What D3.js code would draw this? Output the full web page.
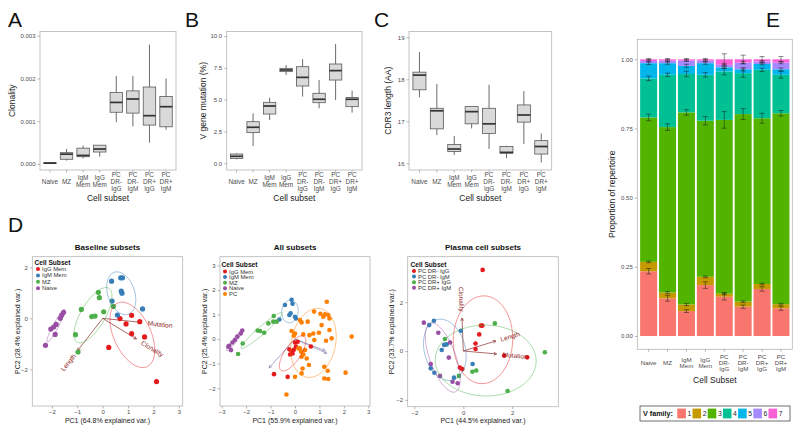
<!doctype html>
<html lang="en">
<head>
<meta charset="utf-8">
<title>Repertoire panels A-E</title>
<style>
body{margin:0;background:#fff;}
svg{display:block;}
</style>
</head>
<body>
<script src="https://cdn.jsdelivr.net/npm/d3@7"></script>
<script>
// ---- data ----
var subsets = ["Naive","MZ","IgM Mem","IgG Mem","PC DR- IgG","PC DR- IgM","PC DR+ IgG","PC DR+ IgM"];
var subsetLines = [["Naive"],["MZ"],["IgM","Mem"],["IgG","Mem"],["PC","DR-","IgG"],["PC","DR-","IgM"],["PC","DR+","IgG"],["PC","DR+","IgM"]];

// box stats per subset: [min, q1, median, q3, max]
var clonality = [
  [0.00001,0.00001,0.00002,0.00003,0.00003],
  [0.00008,0.00011,0.00023,0.000265,0.00035],
  [0.00013,0.00017,0.0002,0.00037,0.00043],
  [0.00017,0.00028,0.00035,0.00044,0.00044],
  [0.00098,0.00121,0.00144,0.00167,0.00206],
  [0.00088,0.00119,0.00152,0.00171,0.00206],
  [0.0005,0.00091,0.00113,0.0018,0.00279],
  [0.0008,0.00087,0.00134,0.00158,0.002]
];
var mutation = [
  [0.31,0.37,0.55,0.73,0.79],
  [1.36,2.41,2.83,3.27,3.93],
  [3.4,3.87,4.5,4.79,5.16],
  [6.94,7.2,7.33,7.46,7.72],
  [5.24,6.07,6.75,7.59,8.19],
  [4.32,4.76,5.03,5.5,6.54],
  [4.97,6.54,7.28,7.8,9.37],
  [3.98,4.45,5.03,5.16,5.71]
];
var cdr3 = [
  [17.57,17.75,18.1,18.17,18.65],
  [16.67,16.82,17.25,17.31,17.89],
  [16.2,16.28,16.34,16.45,16.65],
  [16.83,16.94,17.23,17.35,17.35],
  [16.34,16.71,16.94,17.31,17.87],
  [16.12,16.24,16.26,16.4,16.42],
  [16.46,16.98,17.15,17.39,17.72],
  [16.02,16.22,16.4,16.54,16.71]
];
var clonTicks = [0,0.001,0.002,0.003];
var mutTicks = [0,2.5,5,7.5,10];
var cdrTicks = [16,17,18,19];

// V family proportions (families 1..7, one value per subset)
var vFamilies = ["1","2","3","4","5","6","7"];
var vProp = [
  [0.234,0.136,0.09,0.184,0.142,0.106,0.17,0.1],
  [0.034,0.021,0.024,0.03,0.011,0.018,0.018,0.015],
  [0.522,0.598,0.694,0.564,0.628,0.678,0.599,0.69],
  [0.141,0.189,0.139,0.166,0.175,0.148,0.175,0.139],
  [0.055,0.042,0.029,0.042,0.015,0.014,0.021,0.02],
  [0.008,0.009,0.019,0.009,0.009,0.024,0.009,0.024],
  [0.006,0.005,0.005,0.005,0.02,0.012,0.008,0.012]
];
var vErr = [
  [0.01,0.01,0.005,0.012,0.012,0.006,0.008,0.007],
  [0.003,0.004,0.004,0.003,0.004,0.003,0.003,0.003],
  [0.012,0.012,0.01,0.015,0.03,0.02,0.018,0.01],
  [0.008,0.006,0.01,0.008,0.012,0.015,0.006,0.012],
  [0.005,0.004,0.006,0.004,0.004,0.006,0.003,0.005],
  [0.004,0.003,0.003,0.003,0.004,0.005,0.003,0.004],
  [0.003,0.003,0.003,0.003,0.02,0.015,0.01,0.01]
];
var propTicks = [0,0.25,0.5,0.75,1];

// PCA scores, baseline subsets
var baseIgG = [[0.68,-0.01],[1.14,0.12],[0.92,-0.22],[1.46,-0.13],[1.14,-0.6],[1.65,-0.73],[0.24,-1.14],[2.12,-2.48]];
var baseIgM = [[0.35,1.46],[0.71,1.59],[0.78,1.59],[0.73,1.07],[0.76,0.99],[0.37,0.68],[0.58,0.13],[1.57,0.37]];
var baseMZ = [[-0.17,1.02],[-0.13,0.81],[-0.84,0.35],[-0.43,0.07],[-0.3,0.09],[0.04,0.26],[0.42,0.47],[-1.07,-0.64],[-0.97,-1.32]];
var baseNaive = [[-1.54,0.24],[-1.61,0.13],[-1.67,0],[-1.83,-0.24],[-1.93,-0.34],[-2.04,-0.42],[-1.87,-0.63],[-2.25,-1.06]];
var baseLoad = [["Mutation",1.53,-0.16],["Clonality",1.33,-0.81],["Length",-0.99,-1.27]];

// PCA scores, all subsets
var allIgG = [[-0.86,-1.43],[-0.3,-1.54],[-0.23,-0.42],[-0.14,-0.52],[-0.2,-0.63],[-0.1,-0.59],[0,-0.14],[0.11,-0.11],[0.04,-0.31],[0.65,-0.3],[-0.05,-0.44]];
var allIgM = [[-0.41,1.39],[-0.14,1.6],[-0.1,1.44],[-0.18,1.05],[-0.23,0.98],[0,0.91],[0.04,0.84],[-0.64,0.8]];
var allMZ = [[-0.87,0.94],[-1.09,0.64],[-0.89,0.71],[-0.75,0.71],[-1.26,0.26],[-1.43,0.33],[-1.53,0.35],[-2.14,-0.18],[-2.33,-0.61]];
var allNaive = [[-2.16,0.35],[-2.22,0.23],[-2.36,0.1],[-2.46,-0.04],[-2.56,-0.14],[-2.69,-0.27],[-2.62,-0.45],[-2.73,-0.31]];
var allPC = [[1.3,1.52],[0.78,1.12],[1.04,1.03],[1.23,1.01],[1.36,0.98],[1.41,0.84],[1.16,0.91],[0.2,0.78],[0.27,0.68],[0.52,0.71],
  [1.09,0.57],[1.41,0.37],[0.98,0.26],[0.75,0.23],[0.59,0.16],[-0.14,0.33],[-0.05,0.14],[0.34,0.19],[0.79,-0.04],[1.27,-0.07],
  [1.5,0.03],[2.32,0.1],[0,0.23],[0.14,-0.38],[0.2,-0.38],[0.27,-0.72],[0.34,-0.63],[0.48,-0.79],[0.57,-1.06],[0.31,-1.2],
  [1.2,-1.13],[1.34,-1.29],[0.27,-1.4],[0,-1.54],[1.2,-1.61],[1.36,-1.63],[2.07,-1.37],[-0.35,-2.26],[0.25,-0.52],[0.41,-0.45]];
var allLoad = [["Mutation",1.23,-0.47],["Clonality",1.3,-0.58],["Length",-1.06,-1.17]];

// PCA scores, plasma cell subsets
var pcNegIgG = [[0.79,3.32],[0.78,1.04],[0.72,1.04],[0.65,0.68],[0.5,0.31],[0.5,0.08],[1.67,-0.19],[2.61,-0.26],[-0.14,-0.68],[-0.04,-0.74]];
var pcNegIgM = [[-1.2,1.24],[-1.39,1.06],[-0.1,0.83],[-0.78,0.25],[-0.68,0.27],[-0.88,0.04],[-1.33,-0.71],[-1.18,-0.89],[-0.38,-1.09],[0.38,-0.53]];
var pcPosIgG = [[1.29,1.13],[-0.75,0.49],[3.33,-0.05],[0.37,-0.85],[0.53,-0.8],[-0.18,-1.02],[1.81,-1.64]];
var pcPosIgM = [[-1.61,1.16],[-1.02,0.75],[-0.54,0.35],[-0.59,-0.27],[-1.33,-0.53],[-0.95,-1.02],[-0.44,-1.26],[-0.23,-1.32]];
var pcLoad = [["Clonality",-0.05,1.35],["Length",1.33,0.41],["Mutation",1.36,-0.12]];

// ---- drawing ----
var FONT = "Arial, 'Liberation Sans', sans-serif";
var svg = d3.select("body").append("svg")
    .attr("width", 800).attr("height", 432)
    .style("font-family", FONT);

function frame(r) {
  svg.append("rect")
     .attr("x", r.x0).attr("y", r.y0)
     .attr("width", r.x1 - r.x0).attr("height", r.y1 - r.y0)
     .attr("fill", "none").attr("stroke", "#b5b5b5").attr("stroke-width", 0.8);
}

function styleAxis(g, fs) {
  g.attr("font-family", FONT).attr("font-size", fs);
  g.select(".domain").remove();
  g.selectAll(".tick line").attr("stroke", "#8a8a8a").attr("stroke-width", 0.6);
  g.selectAll(".tick text").attr("fill", "#4d4d4d");
}

function yTitle(txt, cx, cy, fs) {
  svg.append("text")
     .attr("transform", "translate(" + (cx + fs * 0.35) + "," + cy + ") rotate(-90)")
     .attr("text-anchor", "middle").attr("font-size", fs).attr("fill", "#1a1a1a")
     .text(txt);
}

function letter(txt, x, y) {
  svg.append("text").attr("x", x).attr("y", y).attr("font-size", 21).attr("fill", "#111").text(txt);
}

function subsetLabels(x, yc, lh, fs) {
  subsetLines.forEach(function(lines, i) {
    var t = svg.append("text")
       .attr("text-anchor", "middle").attr("font-size", fs).attr("fill", "#4d4d4d");
    lines.forEach(function(l, j) {
      t.append("tspan")
       .attr("x", x(subsets[i]) + x.bandwidth() / 2)
       .attr("y", yc + (j - (lines.length - 1) / 2) * lh + fs * 0.35)
       .text(l);
    });
  });
}

function boxPanel(p) {
  var r = p.rect;
  var x = d3.scaleBand().domain(subsets).range([r.x0, r.x1]).paddingInner(0.25).paddingOuter(0.225);
  var y = d3.scaleLinear().domain(p.domain).range(p.range);

  frame(r);
  var ya = svg.append("g").attr("transform", "translate(" + r.x0 + ",0)")
     .call(d3.axisLeft(y).tickValues(p.ticks).tickFormat(d3.format(p.fmt)).tickSize(2.5).tickPadding(2));
  styleAxis(ya, 6);
  var xa = svg.append("g").attr("transform", "translate(0," + r.y1 + ")")
     .call(d3.axisBottom(x).tickFormat("").tickSize(2.5));
  styleAxis(xa, 6);
  subsetLabels(x, 181.5, 6.8, 6.4);

  var g = svg.append("g");
  p.stats.forEach(function(s, i) {
    var cx = x(subsets[i]) + x.bandwidth() / 2;
    g.append("line").attr("x1", cx).attr("x2", cx).attr("y1", y(s[0])).attr("y2", y(s[4]))
     .attr("stroke", "#5a5a5a").attr("stroke-width", 0.9);
    g.append("rect").attr("x", x(subsets[i])).attr("width", x.bandwidth())
     .attr("y", y(s[3])).attr("height", Math.max(0.6, y(s[1]) - y(s[3])))
     .attr("fill", "#d9d9d9").attr("stroke", "#5a5a5a").attr("stroke-width", 0.8);
    g.append("line").attr("x1", x(subsets[i])).attr("x2", x(subsets[i]) + x.bandwidth())
     .attr("y1", y(s[2])).attr("y2", y(s[2]))
     .attr("stroke", "#333").attr("stroke-width", 1.7);
  });

  svg.append("text").attr("x", (r.x0 + r.x1) / 2).attr("y", 201)
     .attr("text-anchor", "middle").attr("font-size", 8.5).attr("fill", "#1a1a1a").text("Cell subset");
  yTitle(p.ytitle, p.ytx, (r.y0 + r.y1) / 2, 8.5);
  letter(p.letter, p.lx, 27);
}

boxPanel({rect: {x0: 40, x1: 176, y0: 31.5, y1: 170}, domain: [0, 0.003], range: [164, 35.7],
          ticks: clonTicks, fmt: ".3f", stats: clonality, ytitle: "Clonality", ytx: 12, letter: "A", lx: 8});
boxPanel({rect: {x0: 226.7, x1: 362, y0: 31.5, y1: 170}, domain: [0, 10], range: [163.3, 36],
          ticks: mutTicks, fmt: ".1f", stats: mutation, ytitle: "V gene mutation (%)", ytx: 203, letter: "B", lx: 185});
boxPanel({rect: {x0: 409, x1: 551.7, y0: 31.5, y1: 170}, domain: [16, 19], range: [163.3, 37.3],
          ticks: cdrTicks, fmt: "d", stats: cdr3, ytitle: "CDR3 length (AA)", ytx: 388, letter: "C", lx: 374});

// ---- panel E: stacked V family proportions ----
var vColors = ["#F8766D","#C49A00","#53B400","#00C094","#00B6EB","#A58AFF","#FB61D7"];
(function() {
  var r = {x0: 637.3, x1: 792.3, y0: 39.3, y1: 349.3};
  var x = d3.scaleBand().domain(subsets).range([r.x0, r.x1]).paddingInner(0.1).paddingOuter(0.15);
  var y = d3.scaleLinear().domain([0, 1]).range([336, 59.3]);
  var color = d3.scaleOrdinal().domain(vFamilies).range(vColors);

  var rows = subsets.map(function(s, i) {
    var row = {subset: s, i: i};
    vFamilies.forEach(function(f, k) { row[f] = vProp[k][i]; });
    return row;
  });
  var layers = d3.stack().keys(vFamilies)(rows);

  frame(r);
  svg.append("g").selectAll("g").data(layers).enter().append("g")
     .attr("fill", function(d) { return color(d.key); })
     .selectAll("rect").data(function(d) { return d; }).enter().append("rect")
     .attr("x", function(d) { return x(d.data.subset); })
     .attr("width", x.bandwidth())
     .attr("y", function(d) { return y(d[1]); })
     .attr("height", function(d) { return y(d[0]) - y(d[1]); });

  // error bars at the top of each segment
  var eb = svg.append("g").attr("stroke", "#1a1a1a").attr("stroke-width", 0.5);
  layers.forEach(function(layer, k) {
    layer.forEach(function(d, i) {
      var cx = x(d.data.subset) + x.bandwidth() / 2, hw = x.bandwidth() * 0.15;
      var e = vErr[k][i], lo = y(d[1] - e), hi = y(d[1] + e);
      eb.append("line").attr("x1", cx).attr("x2", cx).attr("y1", lo).attr("y2", hi);
      eb.append("line").attr("x1", cx - hw).attr("x2", cx + hw).attr("y1", lo).attr("y2", lo);
      eb.append("line").attr("x1", cx - hw).attr("x2", cx + hw).attr("y1", hi).attr("y2", hi);
    });
  });

  var ya = svg.append("g").attr("transform", "translate(" + r.x0 + ",0)")
     .call(d3.axisLeft(y).tickValues(propTicks).tickFormat(d3.format(".2f")).tickSize(2.5).tickPadding(2));
  styleAxis(ya, 6);
  var xa = svg.append("g").attr("transform", "translate(0," + r.y1 + ")")
     .call(d3.axisBottom(x).tickFormat("").tickSize(2.5));
  styleAxis(xa, 6);
  subsetLabels(x, 363, 6.2, 6.2);

  svg.append("text").attr("x", (r.x0 + r.x1) / 2).attr("y", 383)
     .attr("text-anchor", "middle").attr("font-size", 8.5).attr("fill", "#1a1a1a").text("Cell Subset");
  yTitle("Proportion of repertoire", 612, (r.y0 + r.y1) / 2, 8.5);
  letter("E", 766, 27);

  // legend
  var lg = svg.append("g");
  lg.append("rect").attr("x", 640).attr("y", 406).attr("width", 150).attr("height", 15)
    .attr("fill", "#fff").attr("stroke", "#333").attr("stroke-width", 0.7);
  lg.append("text").attr("x", 643).attr("y", 416.3).attr("font-size", 7.2).attr("font-weight", "bold")
    .attr("fill", "#111").text("V family:");
  vFamilies.forEach(function(f, k) {
    var kx = 677.3 + k * 15.2;
    lg.append("rect").attr("x", kx).attr("y", 408.6).attr("width", 8.6).attr("height", 9.8).attr("fill", color(f));
    lg.append("text").attr("x", kx + 10.2).attr("y", 416.3).attr("font-size", 6.8).attr("fill", "#222").text(f);
  });
})();

// ---- panel D: PCA biplots ----
var chiR = Math.sqrt(-2 * Math.log(1 - 0.68));

function ellipse(pts) {
  var n = pts.length;
  var mx = d3.mean(pts, function(p) { return p[0]; }), my = d3.mean(pts, function(p) { return p[1]; });
  var sxx = 0, syy = 0, sxy = 0;
  pts.forEach(function(p) {
    sxx += (p[0] - mx) * (p[0] - mx); syy += (p[1] - my) * (p[1] - my); sxy += (p[0] - mx) * (p[1] - my);
  });
  sxx /= n - 1; syy /= n - 1; sxy /= n - 1;
  var a = Math.sqrt(sxx), b = sxy / a, c = Math.sqrt(Math.max(0, syy - b * b));
  return d3.range(0, 101).map(function(i) {
    var t = i / 100 * 2 * Math.PI;
    return [mx + chiR * a * Math.cos(t), my + chiR * (b * Math.cos(t) + c * Math.sin(t))];
  });
}

function pcaPanel(p) {
  var r = p.rect;
  var x = d3.scaleLinear().domain(p.xdom).range([r.x0, r.x1]);
  var y = d3.scaleLinear().domain(p.ydom).range([r.y1, r.y0]);

  frame(r);
  var ya = svg.append("g").attr("transform", "translate(" + r.x0 + ",0)")
     .call(d3.axisLeft(y).tickValues(p.yticks).tickFormat(d3.format("d")).tickSize(2.5).tickPadding(2));
  styleAxis(ya, 6);
  var xa = svg.append("g").attr("transform", "translate(0," + r.y1 + ")")
     .call(d3.axisBottom(x).tickValues(p.xticks).tickFormat(d3.format("d")).tickSize(2.5).tickPadding(1.5));
  styleAxis(xa, 6);

  // loadings arrows
  var ag = svg.append("g").attr("stroke", p.arrowColor).attr("stroke-width", 0.7).attr("fill", "none");
  p.loads.forEach(function(l) {
    var x0 = x(0), y0 = y(0), x1 = x(l[1]), y1 = y(l[2]);
    var ang = Math.atan2(y1 - y0, x1 - x0), h = 3.2;
    ag.append("line").attr("x1", x0).attr("y1", y0).attr("x2", x1).attr("y2", y1);
    ag.append("path").attr("d", "M" + (x1 - h * Math.cos(ang - 0.5)) + "," + (y1 - h * Math.sin(ang - 0.5)) +
      "L" + x1 + "," + y1 + "L" + (x1 - h * Math.cos(ang + 0.5)) + "," + (y1 - h * Math.sin(ang + 0.5)));
  });

  // points
  p.groups.forEach(function(gr) {
    svg.append("g").selectAll("circle").data(gr.pts).enter().append("circle")
       .attr("cx", function(d) { return x(d[0]); })
       .attr("cy", function(d) { return y(d[1]); })
       .attr("r", p.pr).attr("fill", gr.color);
  });

  // normal ellipses
  var line = d3.line().x(function(d) { return x(d[0]); }).y(function(d) { return y(d[1]); });
  p.groups.forEach(function(gr) {
    svg.append("path").attr("d", line(ellipse(gr.pts)))
       .attr("fill", "none").attr("stroke", gr.color).attr("stroke-width", 0.55).attr("opacity", 0.85);
  });

  // loading labels
  if (p.showLabels) {
    p.loads.forEach(function(l) {
      var deg = -Math.atan(l[2] / l[1]) * 180 / Math.PI;
      var t = svg.append("text")
         .attr("transform", "translate(" + x(l[1]) + "," + y(l[2]) + ") rotate(" + deg + ")")
         .attr("font-size", 6.5).attr("fill", "#8b1a1a").attr("dy", "0.35em")
         .attr("text-anchor", l[1] > 0 ? "start" : "end")
         .text(l[0]);
      var w = t.node().getComputedTextLength();
      t.attr("dx", (l[1] > 0 ? 1 : -1) * 0.25 * w);
    });
  }

  // legend
  var lg = svg.append("g");
  lg.append("text").attr("x", p.leg[0]).attr("y", p.leg[1] + 2.3)
    .attr("font-size", 6.6).attr("font-weight", "bold").attr("fill", "#111").text("Cell Subset");
  p.groups.forEach(function(gr, i) {
    var yy = p.leg[1] + 6.5 + i * p.leg[2];
    lg.append("circle").attr("cx", p.leg[0] + 3.5).attr("cy", yy).attr("r", 2).attr("fill", gr.color);
    lg.append("text").attr("x", p.leg[0] + 7.5).attr("y", yy + 2).attr("font-size", 5.9)
      .attr("fill", "#333").text(gr.name);
  });

  svg.append("text").attr("x", (r.x0 + r.x1) / 2).attr("y", 249.5)
     .attr("text-anchor", "middle").attr("font-size", 8).attr("font-weight", "bold").attr("fill", "#111")
     .text(p.title);
  svg.append("text").attr("x", (r.x0 + r.x1) / 2).attr("y", 422.5)
     .attr("text-anchor", "middle").attr("font-size", 7).attr("fill", "#1a1a1a").text(p.xtitle);
  yTitle(p.ytitle, p.ytx, (r.y0 + r.y1) / 2, 7);
}

var setRed = "#E41A1C", setBlue = "#377EB8", setGreen = "#4DAF4A", setPurple = "#984EA3", setOrange = "#FF7F00";

pcaPanel({
  rect: {x0: 32.3, x1: 182.7, y0: 256.7, y1: 406}, xdom: [-2.77, 3.15], ydom: [-3.44, 2.42],
  xticks: [-2, -1, 0, 1, 2, 3], yticks: [-2, 0, 2], pr: 2.6,
  groups: [{name: "IgG Mem", color: setRed, pts: baseIgG}, {name: "IgM Mem", color: setBlue, pts: baseIgM},
           {name: "MZ", color: setGreen, pts: baseMZ}, {name: "Naive", color: setPurple, pts: baseNaive}],
  loads: baseLoad, arrowColor: "#8b2a2a", showLabels: true,
  leg: [34.5, 262.5, 6.4],
  title: "Baseline subsets", xtitle: "PC1 (64.8% explained var.)", ytitle: "PC2 (28.4% explained var.)", ytx: 17.3
});
pcaPanel({
  rect: {x0: 220, x1: 370, y0: 256.7, y1: 406}, xdom: [-3.07, 3.07], ydom: [-2.73, 3.36],
  xticks: [-3, -2, -1, 0, 1, 2, 3], yticks: [-2, -1, 0, 1, 2, 3], pr: 2.3,
  groups: [{name: "IgG Mem", color: setRed, pts: allIgG}, {name: "IgM Mem", color: setBlue, pts: allIgM},
           {name: "MZ", color: setGreen, pts: allMZ}, {name: "Naive", color: setPurple, pts: allNaive},
           {name: "PC", color: setOrange, pts: allPC}],
  loads: allLoad, arrowColor: "#8a82b6", showLabels: false,
  leg: [221.5, 265, 5.6],
  title: "All subsets", xtitle: "PC1 (55.9% explained var.)", ytitle: "PC2 (25.4% explained var.)", ytx: 204.3
});
pcaPanel({
  rect: {x0: 407.7, x1: 558.3, y0: 256.7, y1: 406.7}, xdom: [-2.27, 3.88], ydom: [-2.28, 3.86],
  xticks: [-2, 0, 2], yticks: [-2, 0, 2], pr: 2.3,
  groups: [{name: "PC DR- IgG", color: setRed, pts: pcNegIgG}, {name: "PC DR- IgM", color: setBlue, pts: pcNegIgM},
           {name: "PC DR+ IgG", color: setGreen, pts: pcPosIgG}, {name: "PC DR+ IgM", color: setPurple, pts: pcPosIgM}],
  loads: pcLoad, arrowColor: "#8b2a2a", showLabels: true,
  leg: [410.5, 264.5, 5.6],
  title: "Plasma cell subsets", xtitle: "PC1 (44.5% explained var.)", ytitle: "PC2 (33.7% explained var.)", ytx: 391.7
});

letter("D", 8, 232);
</script>
</body>
</html>
